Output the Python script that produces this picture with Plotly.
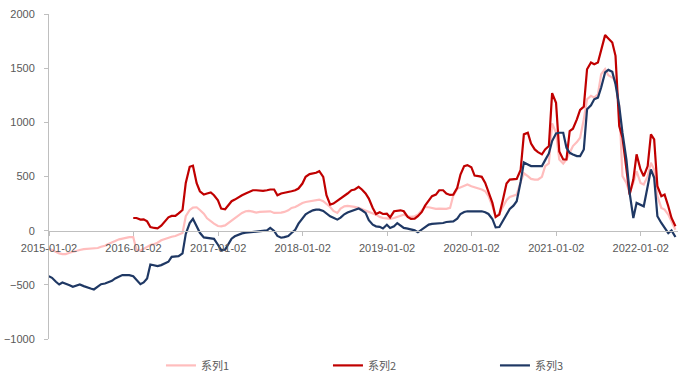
import pandas as pd
import plotly.graph_objects as go

dates = pd.date_range("2015-01-01", periods=179, freq="SMS")

series1 = [-164,-179,-194,-210,-216,-216,-204,-194,-188,-179,
           -170,-167,-167,-167,-160,-148,-139,-123,-111,-96,
           -80,-71,-62,-59,-59,-179,-185,-167,-148,-133,
           -123,-111,-89,-77,-65,-56,-49,-37,-22,133,
           191,213,216,191,157,114,86,65,43,40,
           49,71,96,120,142,164,179,182,176,167,
           173,176,179,179,164,164,167,173,188,210,
           219,235,256,265,272,278,287,287,272,250,
           219,182,164,204,225,228,225,219,210,198,
           188,173,160,148,127,117,114,108,117,127,
           142,148,133,127,133,148,188,219,216,207,
           201,204,201,201,210,324,386,401,417,426,
           410,401,395,380,364,318,225,127,157,219,
           281,312,324,333,450,530,503,478,472,472,
           497,596,620,990,904,657,620,657,719,781,
           818,858,1028,1213,1244,1228,1259,1444,1491,1435,
           1413,1383,1151,503,441,349,441,549,441,426,
           503,626,565,318,210,194,148,86,9]

series2 = [None]*24 + [117,117,102,105,86,34,
           25,22,46,86,123,136,136,160,191,441,
           590,600,438,364,333,343,352,327,281,204,
           198,235,272,287,312,327,343,358,373,373,
           367,367,373,380,380,327,343,349,352,364,
           373,389,435,497,522,528,534,549,497,327,
           241,250,275,296,321,343,373,380,404,380,
           343,296,210,154,170,154,157,123,179,185,
           188,179,127,108,111,133,173,231,281,318,
           333,373,373,343,330,333,395,518,596,605,
           586,509,503,497,441,355,256,127,148,272,
           435,472,472,478,560,889,904,805,750,725,
           704,750,781,1270,1180,730,657,657,920,941,
           1028,1114,1145,1490,1552,1537,1552,1676,1805,1774,
           1737,1614,966,858,596,333,472,704,565,503,
           596,889,842,410,318,333,225,117,40]

series3 = [-420,-435,-472,-497,-478,-488,-503,-518,-509,-497,
           -512,-525,-534,-543,-518,-494,-488,-478,-463,-441,
           -420,-410,-410,-410,-420,-450,-494,-478,-441,-312,
           -318,-327,-318,-302,-287,-241,-241,-235,-210,-30,
           70,110,40,-20,-62,-65,-70,-75,-130,-180,
           -175,-120,-74,-52,-37,-25,-19,-15,-12,-9,
           -3,-3,3,25,-3,-49,-65,-59,-49,-22,
           9,65,111,151,173,188,194,194,182,157,
           133,120,102,120,151,167,182,194,204,188,
           164,96,55,40,35,20,55,25,40,70,
           46,25,19,9,3,-15,9,34,56,62,
           65,71,71,80,86,86,111,154,173,179,
           179,179,179,179,170,154,108,30,34,86,
           148,201,231,272,450,630,611,596,596,596,
           596,651,713,827,898,904,904,765,719,704,
           688,688,750,1120,1157,1213,1228,1321,1460,1484,
           1466,1352,1151,904,657,349,117,256,241,225,
           410,565,488,133,71,25,-22,3,-59]

names = ["系列1", "系列2", "系列3"]
colors = ["#FFBDBD", "#C00000", "#1F3864"]

tick_dates = ["2015-01-02", "2016-01-02", "2017-01-02", "2018-01-02",
              "2019-01-02", "2020-01-02", "2021-01-02", "2022-01-02"]
y_ticks = [-1000, -500, 0, 500, 1000, 1500, 2000]

fig = go.Figure()
for name, vals, col in zip(names, [series1, series2, series3], colors):
    fig.add_trace(go.Scatter(x=dates, y=vals, name=name, mode="lines",
                             line=dict(color=col, width=2.2)))

W, H = 689, 381
top, left, right = 14, 49, 678
plot_bottom = 339           # pixel row of the y-axis bottom (-1000)
area_h = H - top            # plotting area with zero bottom margin
dom_bottom = (H - plot_bottom) / area_h
zero_frac = dom_bottom + (1 - dom_bottom) / 3

axis_col = "#BFBFBF"
font_col = "#595959"
fig.update_layout(
    width=W, height=H,
    margin=dict(l=left, r=W - right, t=top, b=0),
    paper_bgcolor="white", plot_bgcolor="white",
    font=dict(family="Liberation Sans, Noto Sans CJK SC", size=11, color=font_col),
    showlegend=True,
    legend=dict(orientation="h", x=0.178, xanchor="left",
                y=0.003, yanchor="bottom",
                entrywidth=122, entrywidthmode="pixels",
                font=dict(family="Noto Sans CJK SC, Liberation Sans", size=11, color=font_col),
                bgcolor="rgba(0,0,0,0)"),
    xaxis=dict(type="date", range=["2015-01-02", "2022-06-12"],
               anchor="free", position=zero_frac, automargin=False,
               showline=True, linecolor=axis_col, linewidth=1,
               ticks="outside", ticklen=4, tickcolor=axis_col,
               tickvals=tick_dates, ticktext=tick_dates,
               ticklabelstandoff=3,
               showgrid=False, zeroline=False,
               tickfont=dict(size=11, color=font_col)),
    yaxis=dict(range=[-1000, 2000], tickvals=y_ticks, automargin=False,
               domain=[dom_bottom, 1],
               showline=True, linecolor=axis_col, linewidth=1,
               ticks="outside", ticklen=4, tickcolor=axis_col,
               ticklabelstandoff=7,
               showgrid=False, zeroline=False,
               tickfont=dict(size=11, color=font_col)),
)

fig.write_html("out.html", config={"displayModeBar": False},
               post_script="document.body.style.margin='0px';document.body.style.overflow='hidden';")
